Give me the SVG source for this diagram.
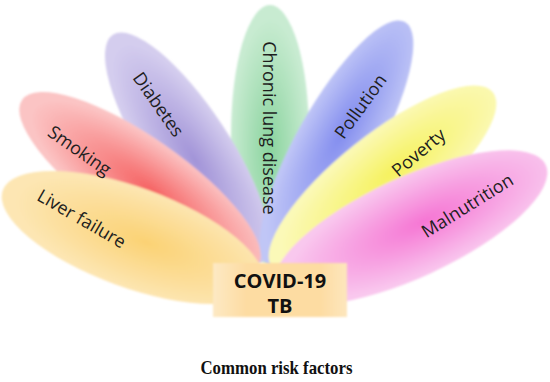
<svg xmlns="http://www.w3.org/2000/svg" width="550" height="382" viewBox="0 0 550 382">
<style>
.lbl{font-family:"Open Sans","Liberation Sans",sans-serif;font-size:18px;fill:#1e1e1e;text-anchor:middle;dominant-baseline:central}
.core{font-family:"Open Sans","Liberation Sans",sans-serif;font-size:20px;font-weight:bold;fill:#111;text-anchor:middle}
.title{font-family:"Liberation Serif","Times New Roman",serif;font-size:19px;font-weight:bold;fill:#111;text-anchor:middle}
</style>
<defs>
<filter id="soft" x="-10%" y="-10%" width="120%" height="120%"><feGaussianBlur stdDeviation="0.8"/></filter>
<filter id="boxsoft" x="-10%" y="-20%" width="120%" height="140%"><feGaussianBlur stdDeviation="1.2"/></filter>
<radialGradient id="gGreen" cx="0.55" cy="0.5" r="0.5"><stop offset="0" stop-color="#8ad49e"/><stop offset="1" stop-color="#c8ebd1"/></radialGradient>
<radialGradient id="gPurple" cx="0.55" cy="0.5" r="0.5"><stop offset="0" stop-color="#a294d8"/><stop offset="1" stop-color="#d4cdee"/></radialGradient>
<radialGradient id="gRed" cx="0.55" cy="0.5" r="0.5"><stop offset="0" stop-color="#f66464"/><stop offset="1" stop-color="#fbc4c4"/></radialGradient>
<radialGradient id="gOrange" cx="0.55" cy="0.5" r="0.5"><stop offset="0" stop-color="#fbd274"/><stop offset="1" stop-color="#fde6b3"/></radialGradient>
<radialGradient id="gBlue" cx="0.55" cy="0.5" r="0.5"><stop offset="0" stop-color="#828cef"/><stop offset="1" stop-color="#c0c6f6"/></radialGradient>
<radialGradient id="gYellow" cx="0.55" cy="0.5" r="0.5"><stop offset="0" stop-color="#f6f25e"/><stop offset="1" stop-color="#fbf9b8"/></radialGradient>
<radialGradient id="gPink" cx="0.55" cy="0.5" r="0.5"><stop offset="0" stop-color="#f676d4"/><stop offset="1" stop-color="#f9c8ee"/></radialGradient>
<linearGradient id="gBox" x1="0" y1="0" x2="1" y2="0"><stop offset="0" stop-color="#fde9c4"/><stop offset="0.25" stop-color="#fddca2"/><stop offset="0.8" stop-color="#fddca2"/><stop offset="1" stop-color="#fde6bd"/></linearGradient>
</defs>
<g id="petals" filter="url(#soft)">
<g id="chronic-lung-disease"><ellipse cx="0" cy="0" rx="130" ry="39" fill="url(#gGreen)" transform="translate(270,135) rotate(90)"/></g>
<g id="diabetes"><ellipse cx="0" cy="0" rx="136" ry="42" fill="url(#gPurple)" transform="translate(187.5,148.5) rotate(56.7)"/></g>
<g id="pollution"><ellipse cx="0" cy="0" rx="139.5" ry="40" fill="url(#gBlue)" transform="translate(336.5,143.5) rotate(-60.6)"/></g>
<g id="smoking"><ellipse cx="0" cy="0" rx="144" ry="45" fill="url(#gRed)" transform="translate(140,182.5) rotate(35)"/></g>
<g id="poverty"><ellipse cx="0" cy="0" rx="141" ry="45" fill="url(#gYellow)" transform="translate(382.5,180) rotate(-38.5)"/></g>
<g id="liver-failure"><ellipse cx="0" cy="0" rx="138" ry="50" fill="url(#gOrange)" transform="translate(132.5,237.5) rotate(20)"/></g>
<g id="malnutrition"><ellipse cx="0" cy="0" rx="149" ry="50" fill="url(#gPink)" transform="translate(410.5,227.5) rotate(-24.8)"/></g>
</g>
<g id="labels">
<text class="lbl" transform="translate(270,128) rotate(90)">Chronic lung disease</text>
<text class="lbl" transform="translate(159,104) rotate(55)">Diabetes</text>
<text class="lbl" transform="translate(80,150) rotate(35)">Smoking</text>
<text class="lbl" transform="translate(82,218) rotate(30)">Liver failure</text>
<text class="lbl" transform="translate(360,106) rotate(-54)">Pollution</text>
<text class="lbl" transform="translate(418,152) rotate(-40)">Poverty</text>
<text class="lbl" transform="translate(467,205) rotate(-32)">Malnutrition</text>
</g>
<g id="core">
<rect x="213" y="263" width="134" height="54" fill="url(#gBox)" filter="url(#boxsoft)"/>
<text class="core" x="280" y="288">COVID-19</text>
<text class="core" x="280" y="313">TB</text>
</g>
<text class="title" x="276.5" y="374" textLength="152" lengthAdjust="spacingAndGlyphs">Common risk factors</text>
</svg>
